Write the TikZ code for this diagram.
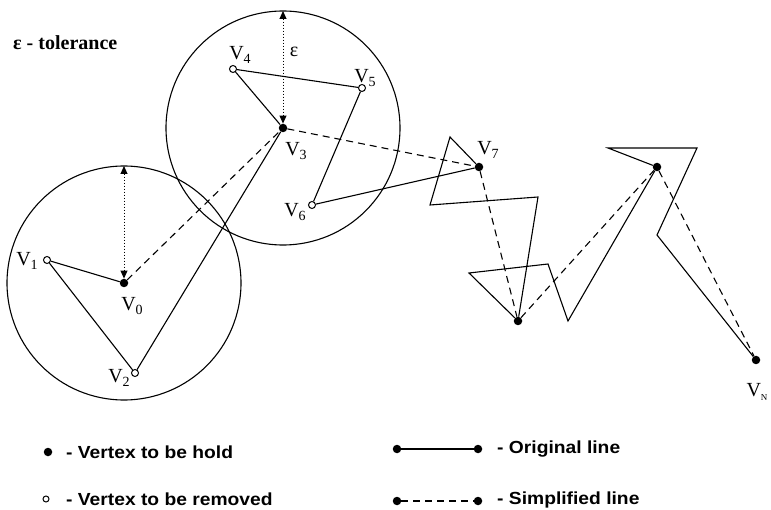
\documentclass[tikz,border=0pt]{standalone}
\usepackage{fontspec}
\setmainfont{Liberation Serif}
\newfontfamily\legfont[FakeStretch=1.1]{Liberation Sans}
\usetikzlibrary{arrows.meta}
\newcommand{\vlab}[1]{V\raisebox{-0.45ex}{\fontsize{14}{14}\selectfont #1}}
\tikzset{
  held/.style={circle,fill=black,inner sep=0pt,minimum size=8.5pt},
  rem/.style={circle,draw=black,fill=white,line width=1pt,inner sep=0pt,minimum size=7pt},
  orig/.style={line width=1.1pt},
  simp/.style={line width=1.1pt,dash pattern=on 7pt off 5pt},
  ring/.style={line width=1.1pt},
  epsarrow/.style={line width=1pt,dotted,{Triangle[width=7pt,length=8pt]}-{Triangle[width=7pt,length=8pt]}},
  vtext/.style={font=\fontsize{20}{22}\selectfont,inner sep=0pt},
  legtext/.style={font=\legfont\bfseries\fontsize{17.5}{20}\selectfont,anchor=west,inner sep=0pt}
}
\begin{document}
\begin{tikzpicture}[x=1pt,y=-1pt]
\useasboundingbox (0,0) rectangle (771,510);
% tolerance circles
\draw[ring] (124,283) circle (117pt);
\draw[ring] (283,128) circle (117pt);
% vertices
\node[held] (v0) at (124,283) {};
\node[rem]  (v1) at (47,260) {};
\node[rem]  (v2) at (135,373) {};
\node[held] (v3) at (283,128) {};
\node[rem]  (v4) at (233,69) {};
\node[rem]  (v5) at (362,88) {};
\node[rem]  (v6) at (312,205) {};
\node[held] (v7) at (479,167) {};
\node[held] (h1) at (518,321) {};
\node[held] (h2) at (657,167) {};
\node[held] (vn) at (756,360) {};
\coordinate (a) at (450,137);
\coordinate (b) at (430,205);
\coordinate (c) at (538,197);
\coordinate (d) at (469,273);
\coordinate (e) at (548,264);
\coordinate (f) at (568,321);
\coordinate (g) at (608,148);
\coordinate (i) at (697,148);
\coordinate (j) at (657,235);
% original line
\draw[orig] (v0) -- (v1) -- (v2) -- (v3) -- (v4) -- (v5) -- (v6) -- (v7)
  -- (a) -- (b) -- (c) -- (h1) -- (d) -- (e) -- (f) -- (h2) -- (g) -- (i) -- (j) -- (vn);
% simplified line
\draw[simp] (v0) -- (v3) -- (v7) -- (h1) -- (h2) -- (vn);
% epsilon arrows
\coordinate (t0) at (124,166);
\coordinate (t3) at (283,11);
\draw[epsarrow] (t0) -- (v0.north);
\draw[epsarrow] (t3) -- (v3.north);
% labels
\node[vtext] (l0) at (132,306) {\vlab{0}};
\node[vtext] (l1) at (27,261) {\vlab{1}};
\node[vtext] (l2) at (119,378) {\vlab{2}};
\node[vtext] (l3) at (296,151) {\vlab{3}};
\node[vtext] (l4) at (240,55) {\vlab{4}};
\node[vtext] (l5) at (365,78) {\vlab{5}};
\node[vtext] (l6) at (295,212) {\vlab{6}};
\node[vtext] (l7) at (488,150) {\vlab{7}};
\node[vtext] (ln) at (757,392) {V\raisebox{-0.5ex}{\fontsize{9}{9}\selectfont N}};
\node[vtext] (eps) at (294,52) {ε};
\node[vtext,anchor=west,font=\bfseries\fontsize{20}{22}\selectfont] (tol) at (13,43) {ε - tolerance};
% legend
\node[held] (k1) at (48,452) {};
\node[legtext] (k1t) at (66,452) {- Vertex to be hold};
\node[rem,minimum size=6pt] (k2) at (46,499) {};
\node[legtext] (k2t) at (66,499) {- Vertex to be removed};
\node[held] (k3a) at (397,449) {};
\node[held] (k3b) at (478,449) {};
\draw[orig] (k3a) -- (k3b);
\node[legtext] (k3t) at (497,449) {- Original line};
\node[held] (k4a) at (397,501) {};
\node[held] (k4b) at (478,501) {};
\draw[simp] (k4a) -- (k4b);
\node[legtext] (k4t) at (497,500) {- Simplified line};
\end{tikzpicture}
\end{document}
